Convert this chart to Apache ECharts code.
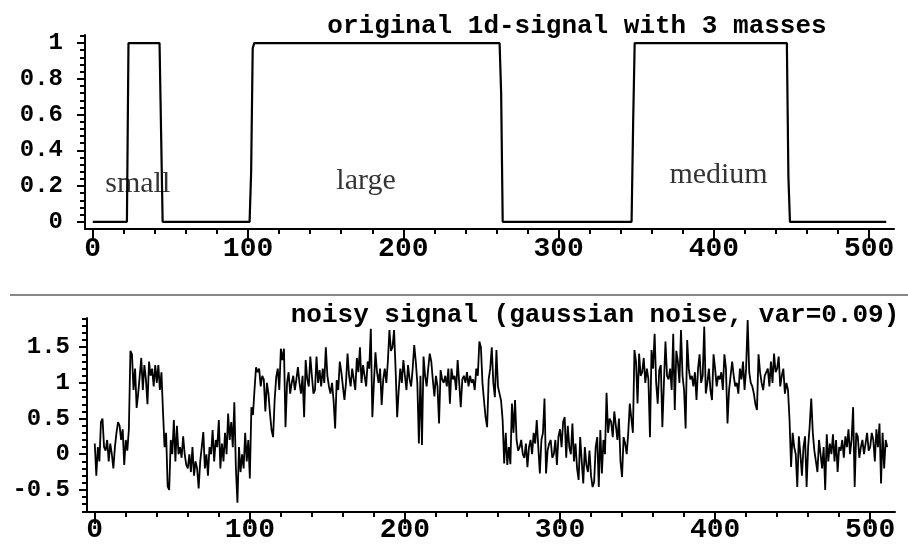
<!DOCTYPE html>
<html lang="en">
<head>
	<meta charset="UTF-8">
	<title>1d-signal with 3 masses</title>
	<script src="https://cdn.jsdelivr.net/npm/echarts/dist/echarts.min.js"></script>
</head>
<body style="margin:0;background-color:#ffffff;">
<div id="main" style="width:908px;height:546px;"></div>
<script type="text/javascript">
    // original signal, corner points of the three steps
    var stepX = [0, 22, 23, 43, 44, 45, 101, 102, 103, 104, 262, 263, 264, 347, 348, 349, 447, 448, 449, 511];
    var stepY = [0, 0, 1, 1, 0.5, 0, 0, 0.28, 0.97, 1, 1, 0.72, 0, 0, 0.55, 1, 1, 0.25, 0, 0];

    // names of the masses (x, y where the word sits)
    var massNames = ['small', 'large', 'medium'];
    var massX = [29, 176, 403];
    var massY = [0.21, 0.23, 0.26];

    // noisy signal, one value per sample 0..511
    var noisy = [
        0.15, -0.3, 0.1, -0.1, 0.45, 0.5, 0.1, 0.05, 0.2, -0.1, 0.15, 0.0, -0.2, 0.1, 0.3, 0.45, 0.4, 0.2, 0.35, -0.15, 0.2, 0.05, 0.35,
        1.45, 1.4, 0.9, 1.2, 0.65, 0.85, 1.1, 1.35, 0.9, 1.25, 1.05, 0.7, 1.3, 1.1, 1.2, 0.95, 1.25, 1.0, 1.25, 0.9, 1.15,
        0.6, 0.1, 0.3, -0.45, -0.5, 0.2, 0.0, 0.48, -0.1, 0.4, 0.0, 0.1, -0.05, 0.25, 0.0, -0.15,
        -0.2, 0.0, -0.25, 0.1, -0.3, -0.1, -0.2, -0.48, -0.1, 0.1, 0.31, -0.2, 0.0, -0.3, 0.1, 0.0,
        0.34, -0.1, 0.2, 0.1, 0.48, -0.2, 0.15, -0.1, 0.3, 0.0, 0.57, 0.2, 0.45, 0.1, 0.73, -0.2,
        -0.68, 0.1, -0.25, 0.0, -0.2, 0.3, -0.1, 0.2, -0.34,
        0.66, 0.55, 0.9, 1.22, 1.15, 1.2, 0.95, 1.1, 1.05, 0.6, 1.0, 0.85, 0.57, 0.34, 0.24, 0.76,
        1.08, 1.2, 0.9, 1.48, 1.32, 1.48, 0.38, 1.0, 1.15, 0.85, 1.0, 1.1, 0.9, 1.05, 1.22, 1.0,
        0.85, 1.1, 0.52, 1.32, 1.05, 0.95, 1.37, 1.1, 0.85, 0.9, 1.37, 1.0, 1.18, 0.95, 1.2, 1.0,
        1.5, 1.1, 0.95, 0.85, 1.0, 0.75, 0.36, 1.04, 0.9, 1.3, 1.15, 0.95, 0.76, 1.0, 1.41, 1.1,
        0.95, 1.2, 1.05, 0.9, 1.35, 1.15, 1.5, 1.0, 1.25, 1.1, 0.95, 1.3, 1.2, 1.76, 0.52, 1.0,
        1.43, 1.15, 1.0, 1.2, 0.69, 1.05, 1.2, 1.0, 1.3, 1.74, 1.45, 1.5, 1.74, 1.18, 0.52, 0.9,
        1.2, 1.0, 1.32, 1.1, 0.9, 1.25, 1.05, 0.95, 1.2, 1.53, 1.3, 1.0, 0.15, 1.1, 0.13, 1.37,
        1.1, 0.95, 1.2, 1.41, 1.3, 1.04, 0.81, 1.1, 0.95, 0.43, 1.18, 1.05, 1.0, 1.1, 0.95, 1.2,
        0.71, 1.2, 1.05, 1.1, 0.9, 1.32, 1.0, 0.66, 1.05, 1.1, 1.0, 1.15, 0.95, 1.1, 1.0, 1.05,
        0.9, 1.2, 1.1, 1.58, 1.5, 1.0, 0.75, 0.52, 0.38, 1.05, 1.2, 1.5, 1.0, 0.8, 1.46, 0.95, 0.85, 0.75,
        0.48, -0.13, 0.3, -0.15, 0.1, -0.14, 0.71, 0.3, 0.76, 0.2, 0.05, 0.1, 0.2, 0.0, -0.05, 0.15,
        -0.18, 0.1, 0.2, 0.0, 0.3, 0.15, 0.48, 0.1, -0.27, 0.2, 0.3, 0.78, -0.27, 0.05, 0.15, 0.2,
        -0.05, 0.0, 0.2, -0.15, 0.25, 0.35, 0.1, 0.45, 0.52, -0.05, 0.4, 0.1, 0.0, 0.43, -0.1, 0.15,
        -0.2, -0.36, 0.24, -0.1, -0.41, 0.1, -0.15, -0.25, 0.05, -0.3, -0.46, -0.39, 0.1, 0.24, -0.46, 0.34,
        -0.27, 0.2, 0.0, 0.86, 0.3, 0.5, 0.45, 0.24, 0.6, 0.4, 0.2, 0.5, -0.1, -0.32, 0.24, 0.15, 0.0, 0.3, 0.71, 0.5, 0.3,
        1.46, 1.3, 0.71, 1.41, 1.1, 1.15, 1.35, 1.0, 1.2, 1.05, 0.24, 1.46, 1.2, 1.69, 1.0, 0.71,
        1.18, 1.25, 0.38, 1.0, 1.58, 1.1, 1.05, 1.2, 0.9, 1.69, 0.62, 1.45, 1.3, 1.0, 1.74, 1.1,
        0.9, 0.36, 1.6, 1.2, 1.05, 1.1, 0.95, 1.15, 0.76, 1.2, 1.4, 1.0, 1.1, 1.79, 0.85, 1.0,
        1.2, 0.9, 0.76, 1.4, 1.2, 0.95, 1.1, 1.05, 1.15, 0.9, 1.4, 1.2, 0.43, 0.9, 1.1, 1.3,
        1.1, 0.95, 1.0, 0.85, 1.2, 1.05, 1.3, 0.9, 1.2, 1.88, 1.15, 1.0, 0.95, 0.85, 0.7, 0.62,
        1.4, 1.15, 1.0, 0.9, 1.1, 1.15, 1.2, 0.95, 1.3, 1.0, 1.41, 1.15, 1.2, 1.37, 0.95, 1.1, 1.2, 0.85, 1.0, 0.9,
        0.48, -0.18, 0.3, 0.1, 0.0, -0.46, 0.25, 0.0, -0.3, 0.1, 0.25, -0.46, 0.1, 0.4, 0.78, 0.3,
        0.05, -0.1, -0.25, 0.2, 0.0, -0.2, 0.1, -0.5, 0.28, -0.1, 0.15, 0.0, 0.28, -0.1, 0.2, -0.25,
        0.1, 0.05, 0.2, -0.05, 0.25, 0.1, 0.35, 0.0, 0.2, 0.66, -0.46, 0.3, 0.25, -0.05, 0.1, 0.2,
        0.0, 0.15, 0.3, 0.05, 0.1, 0.3, 0.2, -0.1, 0.35, 0.1, 0.43, -0.41, 0.3, -0.2, 0.2, 0.1
    ];

    // tick values
    var xTicks = [0, 100, 200, 300, 400, 500];
    var xMinor = [20, 40, 60, 80, 120, 140, 160, 180, 220, 240, 260, 280, 320, 340, 360, 380, 420, 440, 460, 480];
    var topYTicks = [0, 0.2, 0.4, 0.6, 0.8, 1];
    var topYMinor = [0.04, 0.08, 0.12, 0.16, 0.24, 0.28, 0.32, 0.36, 0.44, 0.48, 0.52, 0.56,
        0.64, 0.68, 0.72, 0.76, 0.84, 0.88, 0.92, 0.96, 1.04];
    var botYTicks = [-0.5, 0, 0.5, 1, 1.5];
    var botYMinor = [-0.8, -0.7, -0.6, -0.4, -0.3, -0.2, -0.1, 0.1, 0.2, 0.3, 0.4, 0.6, 0.7, 0.8, 0.9,
        1.1, 1.2, 1.3, 1.4, 1.6, 1.7, 1.8, 1.9];

    var mono = 'Liberation Mono';

    var stepData = [];
    for (var i = 0; i < stepX.length; i++) {
        stepData.push([stepX[i], stepY[i]]);
    }
    var noisyData = [];
    for (var i = 0; i < noisy.length; i++) {
        noisyData.push([i, noisy[i]]);
    }
    var massData = [];
    for (var i = 0; i < massNames.length; i++) {
        massData.push({name: massNames[i], value: [massX[i], massY[i]]});
    }

    // one major axis + one minor-tick axis, same range
    function xAx(grid, ticks, major) {
        return {
            type: 'value', gridIndex: grid, min: -5, max: 516, position: 'bottom',
            splitLine: {show: false},
            axisLine: {show: major, onZero: false, lineStyle: {color: '#000', width: 2}},
            axisTick: {customValues: ticks, length: major ? 12 : 5, lineStyle: {color: '#000', width: 2}},
            axisLabel: {show: major, customValues: ticks, margin: grid == 0 ? 6 : 4,
                color: '#000', fontFamily: mono, fontWeight: 'bold', fontSize: 28}
        };
    }
    function yAx(grid, ticks, major, min, max) {
        return {
            type: 'value', gridIndex: grid, min: min, max: max, position: 'left',
            splitLine: {show: false},
            axisLine: {show: major, onZero: false, lineStyle: {color: '#000', width: 2}},
            axisTick: {customValues: ticks, length: major ? 8 : 5, lineStyle: {color: '#000', width: 2}},
            axisLabel: {show: major, customValues: ticks, margin: grid == 0 ? 22 : 17,
                color: '#000', fontFamily: mono, fontWeight: 'bold', fontSize: 24}
        };
    }

    var myChart = echarts.init(document.getElementById('main'));
    var option = {
        backgroundColor: '#fff',
        animation: false,
        title: [{
            text: 'original 1d-signal with 3 masses',
            left: 572, top: 8, textAlign: 'center',
            textStyle: {fontFamily: mono, fontWeight: 'bold', fontSize: 26, color: '#000'}
        }, {
            text: 'noisy signal (gaussian noise, var=0.09)',
            left: 590, top: 297, textAlign: 'center',
            textStyle: {fontFamily: mono, fontWeight: 'bold', fontSize: 26, color: '#000'}
        }],
        grid: [
            {left: 85, right: 14, top: 35, bottom: 317},
            {left: 87, right: 13, top: 318, bottom: 34}
        ],
        xAxis: [
            xAx(0, xTicks, true), xAx(0, xMinor, false),
            xAx(1, xTicks, true), xAx(1, xMinor, false)
        ],
        yAxis: [
            yAx(0, topYTicks, true, -0.04, 1.045), yAx(0, topYMinor, false, -0.04, 1.045),
            yAx(1, botYTicks, true, -0.81, 1.91), yAx(1, botYMinor, false, -0.81, 1.91)
        ],
        graphic: [{
            type: 'line',
            shape: {x1: 10, y1: 295, x2: 908, y2: 295},
            style: {stroke: '#111', lineWidth: 1}
        }],
        series: [{
            name: 'original',
            type: 'line',
            xAxisIndex: 0, yAxisIndex: 0,
            data: stepData,
            symbol: 'none',
            lineStyle: {color: '#000', width: 2.2}
        }, {
            name: 'masses',
            type: 'scatter',
            xAxisIndex: 0, yAxisIndex: 0,
            data: massData,
            symbolSize: 1,
            itemStyle: {color: 'rgba(0,0,0,0)'},
            label: {
                show: true, position: 'inside', formatter: '{b}',
                fontFamily: 'Liberation Serif', fontSize: 30, color: '#000',
                textBorderWidth: 0
            }
        }, {
            name: 'noisy',
            type: 'line',
            xAxisIndex: 2, yAxisIndex: 2,
            data: noisyData,
            symbol: 'none',
            lineStyle: {color: '#000', width: 1.8}
        }]
    };
    myChart.setOption(option);
</script>
</body>
</html>
